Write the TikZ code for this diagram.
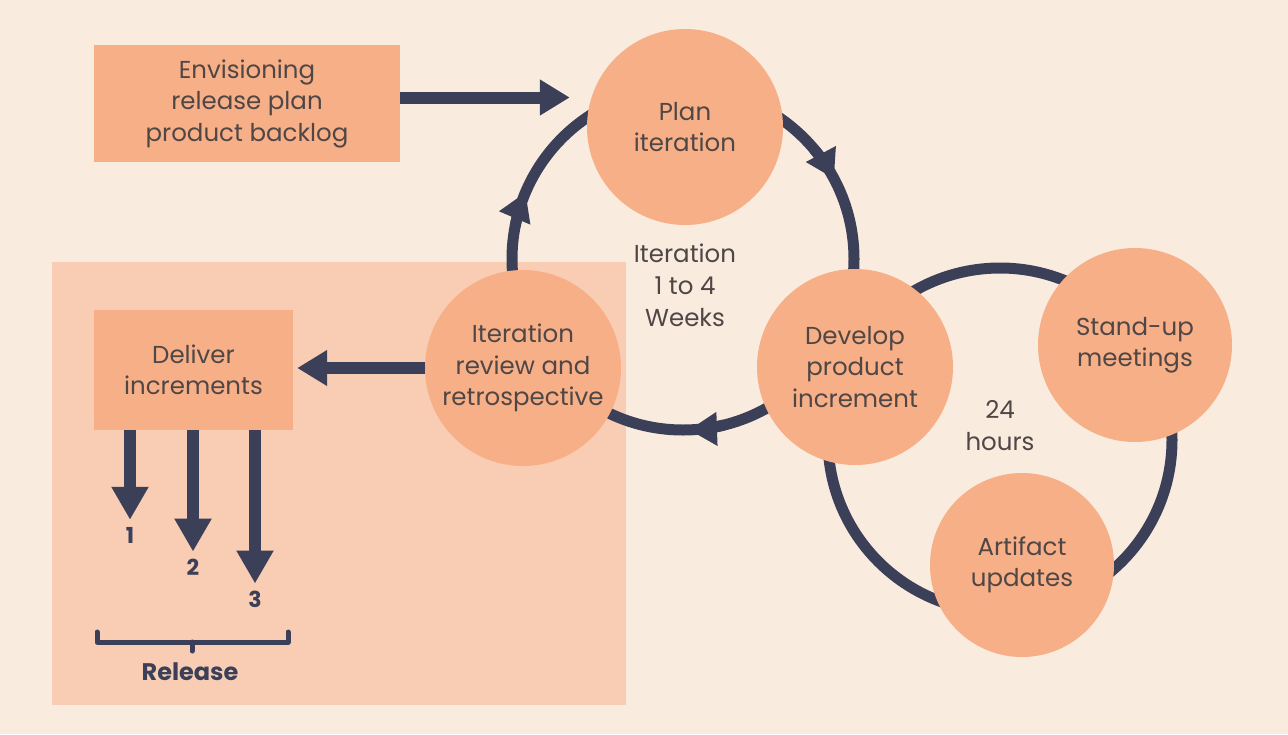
\documentclass[tikz,border=0pt]{standalone}
\usepackage{fontspec}
\setmainfont{Poppins}
\usetikzlibrary{arrows.meta,positioning,calc}
\definecolor{paper}{HTML}{FAEBDF}
\definecolor{peach}{HTML}{F7AF87}
\definecolor{blush}{HTML}{F9CDB3}
\definecolor{ink}{HTML}{3B3F57}
\definecolor{txt}{HTML}{4F4646}
\tikzset{
  stage/.style={circle,fill=peach,minimum size=196pt,inner sep=0pt,align=center,text=txt,font=\fontsize{24.5}{31.5}\selectfont},
  task/.style={rectangle,fill=peach,inner sep=0pt,align=center,text=txt,font=\fontsize{24.5}{31.5}\selectfont},
  note/.style={align=center,text=txt,font=\fontsize{24.5}{32}\selectfont},
  num/.style={inner sep=1pt,text=ink,font=\fontsize{22}{24}\selectfont\bfseries},
  flow/.style={draw=ink,line width=12pt,-{Triangle[length=30pt,width=34pt]}},
  ring/.style={draw=ink,line width=11pt},
  ringtip/.style={ring,-{Triangle[length=28pt,width=32pt]}}
}

\begin{document}
\begin{tikzpicture}[x=1pt,y=-1pt]
  \fill[paper] (0,0) rectangle (1288,734);
  \useasboundingbox (0,0) rectangle (1288,734);

  % release area
  \fill[blush] (52,262) rectangle (626,705);

  % iteration loop
  \coordinate (loop) at (683,259);
  \draw[ring] (loop) circle[radius=171pt];
  \foreach \a/\b in {169/157,40/28,-76/-88} {
    \draw[ringtip] ($(loop)+(\a:171pt)$) arc[start angle=\a,end angle=\b,radius=171pt];
  }

  % daily loop
  \coordinate (daily) at (1000,440);
  \draw[ring] (daily) circle[radius=172pt];

  % stages
  \node[stage] (plan) at (685,127) {Plan\\iteration};
  \node[stage] (review) at (523,368) {Iteration\\review and\\retrospective};
  \node[stage] (develop) at (855,367) {Develop\\product\\increment};
  \node[stage,minimum size=194pt] (standup) at (1135,345) {Stand-up\\meetings};
  \node[stage,minimum size=184pt] (artifact) at (1022,565) {Artifact\\updates};

  \node[note] (weeks) at (685,285) {Iteration\\1 to 4\\Weeks};
  \node[note] (hours) at (1000,426) {24\\hours};

  % boxes
  \node[task,minimum width=306pt,minimum height=117pt] (env) at (247,103.5) {Envisioning\\release plan\\product backlog};
  \node[task,minimum width=199pt,minimum height=120pt] (deliver) at (193.5,370) {Deliver\\increments};

  % arrows
  \coordinate (envout) at ([yshift=6pt]env.east);
  \draw[flow,shorten >=17pt] (envout) -- (envout -| plan.west);
  \draw[flow,shorten >=4pt] (review.west) -- (review.west -| deliver.east);

  \node[num] (n1) at (130,535) {1};
  \node[num] (n2) at (193,567) {2};
  \node[num] (n3) at (255,599) {3};
  \foreach \n in {n1,n2,n3} {
    \draw[flow,-{Triangle[length=33pt,width=35pt]},shorten >=6pt] (deliver.south -| \n) -- (\n.north);
  }

  % release bracket
  \node[num,font=\fontsize{24}{26}\selectfont\bfseries] (release) at (190,672) {Release};
  \draw[ink,line width=5pt,line cap=round,line join=round]
    (97,632) -- (97,642) -- (288,642) -- (288,632) (192,642) -- (192,651);
\end{tikzpicture}
\end{document}
